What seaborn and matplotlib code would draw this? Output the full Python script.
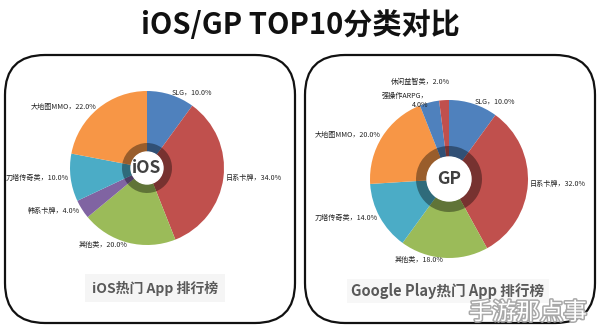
import matplotlib
matplotlib.use("Agg")
import matplotlib.pyplot as plt
import matplotlib.patheffects as pe
from matplotlib.patches import FancyBboxPatch, Circle
import seaborn as sns

sns.set_theme(style="white")
plt.rcParams['font.family'] = ['Noto Sans CJK SC', 'DejaVu Sans']

# ---- data ----
ios_categories = ["SLG", "日系卡牌", "其他类", "韩系卡牌", "刀塔传奇类", "大地图MMO"]
ios_values = [10.0, 34.0, 20.0, 4.0, 10.0, 22.0]
ios_colors = ["#4F81BD", "#C0504D", "#9BBB59", "#8064A2", "#4BACC6", "#F79646"]

gp_categories = ["SLG", "日系卡牌", "其他类", "刀塔传奇类", "大地图MMO", "强操作ARPG", "休闲益智类"]
gp_values = [10.0, 32.0, 18.0, 14.0, 20.0, 4.0, 2.0]
gp_colors = ["#4F81BD", "#C0504D", "#9BBB59", "#4BACC6", "#F79646", "#4F81BD", "#C0504D"]

title = "iOS/GP TOP10分类对比"
ios_sub = "iOS热门 App 排行榜"
gp_sub = "Google Play热门 App 排行榜"

W, H = 600, 331
fig = plt.figure(figsize=(6.0, 3.31), dpi=100)
fig.patch.set_facecolor("white")


def fx(x):
    return x / W


def fy(y):
    return 1 - y / H


frame_ax = fig.add_axes([0, 0, 1, 1])
frame_ax.set_xlim(0, W)
frame_ax.set_ylim(H, 0)
frame_ax.axis("off")
for x0 in (5, 305):
    frame_ax.add_patch(FancyBboxPatch((x0 + 40, 55 + 40), 290 - 80, 268 - 80,
                                      boxstyle="round,pad=40", fill=False,
                                      ec="#111111", lw=1.6))


def darken(c, f=0.62):
    r, g, b = matplotlib.colors.to_rgb(c)
    return (r * f, g * f, b * f)


def draw_pie(cx, cy, R, ring_out, ring_in, values, cats, colors, center_text,
             wrap=(), lift=()):
    S = 150
    ax = fig.add_axes([fx(cx - S), fy(cy + S), 2 * S / W, 2 * S / H])
    labels = []
    for i, (c, v) in enumerate(zip(cats, values)):
        sep = "，\n" if i in wrap else "，"
        labels.append(f"{c}{sep}{v:.1f}%")
    wedges, texts = ax.pie(values, colors=colors, startangle=90, counterclock=False,
                           radius=1.0, labels=labels, labeldistance=1.03,
                           wedgeprops=dict(linewidth=0),
                           textprops=dict(fontsize=5.1, color="#222222"))
    for i in lift:
        x, y = texts[i].get_position()
        texts[i].set_position((x + 0.08, y + 0.2))
    ax.pie(values, colors=[darken(c) for c in colors], startangle=90, counterclock=False,
           radius=ring_out / R, wedgeprops=dict(width=(ring_out - ring_in) / R, linewidth=0))
    ax.add_patch(Circle((0, 0), ring_in / R, color="white", zorder=5))
    ax.text(0, 0, center_text, ha="center", va="center", fontsize=12.5,
            color="#404040", zorder=6, fontweight="bold")
    ax.axis("off")
    ax.set_aspect("auto")
    ax.set_xlim(-S / R, S / R)
    ax.set_ylim(-S / R, S / R)
    return ax


draw_pie(147, 168, 77, 25, 16, ios_values, ios_categories, ios_colors, "iOS")
draw_pie(449, 179, 79, 33, 22, gp_values, gp_categories, gp_colors, "GP",
         wrap=(5,), lift=(6,))

# title
fig.text(0.5, fy(25), title, ha="center", va="center", fontsize=21, fontweight="bold",
         color="#111111")

# subtitles
frame_ax.text(155, 288, ios_sub, ha="center", va="center", fontsize=10, fontweight="bold",
              color="#595959",
              bbox=dict(boxstyle="square,pad=0.5", fc="#f5f5f5", ec="none"))
frame_ax.text(448, 291, gp_sub, ha="center", va="center", fontsize=10.5, fontweight="bold",
              color="#595959",
              bbox=dict(boxstyle="square,pad=0.3", fc="#f7f7f7", ec="none"))

# watermark
frame_ax.text(528, 313, "手游那点事", ha="center", va="center", fontsize=17,
              color="white",
              path_effects=[pe.withStroke(linewidth=2.2, foreground="#a8a8a8")])

fig.savefig("out.png", dpi=100, facecolor="white")
